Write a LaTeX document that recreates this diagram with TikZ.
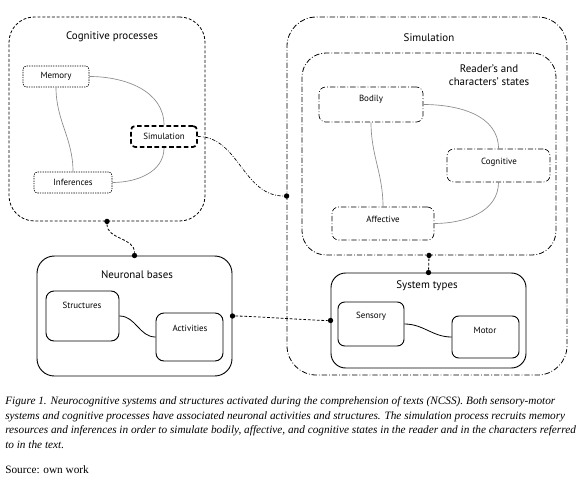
\documentclass[tikz,border=0pt]{standalone}
\usepackage{fontspec}
\setsansfont{PT Sans}
\newfontfamily\capfont{Liberation Serif}
\usetikzlibrary{fit}

\begin{document}
\begin{tikzpicture}[x=0.75pt,y=-0.75pt,font=\sffamily,
  frame/.style={draw,inner sep=0pt,line width=0.6pt},
  cogframe/.style={frame,dash pattern=on 2.2pt off 1.4pt,rounded corners=19pt},
  simframe/.style={frame,dash pattern=on 4pt off 1.5pt on 0.6pt off 1.5pt,rounded corners=#1},
  solidframe/.style={frame,line width=0.7pt,rounded corners=#1},
  memframe/.style={frame,line width=0.45pt,dash pattern=on 1pt off 0.8pt,rounded corners=2.5pt},
  simin/.style={frame,line width=1.3pt,dash pattern=on 3.5pt off 2pt,rounded corners=3pt},
  title/.style={font=\sffamily\fontsize{8.2}{10}\selectfont,align=center},
  lab/.style={font=\sffamily\fontsize{6.7}{8}\selectfont},
  link/.style={draw=black!45,line width=0.5pt},
  dot/.style={circle,fill=black,inner sep=0pt,minimum size=4pt},
  captext/.style={font=\capfont\fontsize{8.45}{11.1}\selectfont,align=left,anchor=north west,inner sep=0pt}]
  \useasboundingbox (0,0) rectangle (580,485);
  \fill[white] (0,0) rectangle (580,485);
  % left column
  \node[cogframe,fit={(9,17) (205,221)}] (cog) {};
  \node[title] (cogt) at (112,37) {Cognitive processes};
  \node[memframe,fit={(23,66) (89,87)}] (mem) {};
  \node[lab] (memt) at (mem.center) {Memory};
  \node[memframe,fit={(34,172) (112,193)}] (inf) {};
  \node[lab] (inft) at (inf.center) {Inferences};
  \node[simin,fit={(131,126) (197,147)}] (sim) {};
  \node[lab] (simt) at (sim.center) {Simulation};
  \node[solidframe=13pt,fit={(37,256) (232,376)}] (neu) {};
  \node[title] (neut) at (137,275) {Neuronal bases};
  \node[solidframe=6pt,fit={(46,291) (119,341)}] (str) {};
  \node[lab] (strt) at (82,305) {Structures};
  \node[solidframe=6pt,fit={(156,313) (223,361)}] (act) {};
  \node[lab] (actt) at (190,328) {Activities};
  % right column
  \node[simframe=22pt,fit={(287,17) (567,375)}] (simo) {};
  \node[title] (simot) at (429,38) {Simulation};
  \node[simframe=18pt,fit={(302,53) (556,255)}] (states) {};
  \node[title] (statest) at (489,75.5) {Reader's and\\characters' states};
  \node[simframe=5pt,line width=0.5pt,fit={(319,87) (423,122)}] (bod) {};
  \node[lab] (bodt) at (371,99) {Bodily};
  \node[simframe=5pt,line width=0.5pt,fit={(447,149) (550,182)}] (cgn) {};
  \node[lab] (cgnt) at (499,162) {Cognitive};
  \node[simframe=5pt,line width=0.5pt,fit={(332,207) (434,240)}] (aff) {};
  \node[lab] (afft) at (383,219) {Affective};
  \node[solidframe=11pt,fit={(331,273) (526,368)}] (sys) {};
  \node[title] (syst) at (427,286) {System types};
  \node[solidframe=5pt,fit={(338,302) (404,346)}] (sen) {};
  \node[lab] (sent) at (371,316) {Sensory};
  \node[solidframe=5pt,fit={(452,316) (519,358)}] (mot) {};
  \node[lab] (mott) at (485,330) {Motor};
  % links inside boxes
  \draw[link] (mem.east) to[out=0,in=90] (sim.north);
  \draw[link] (mem.south) to[out=-90,in=90] (inf.north);
  \draw[link] (sim.south) to[out=-90,in=0] (inf.east);
  \draw[link] (bod.east) to[out=0,in=90] (cgn.north);
  \draw[link] (bod.south) to[out=-90,in=90] (aff.north);
  \draw[link] (cgn.south) to[out=-90,in=0] (aff.east);
  \draw[link,draw=black,line width=0.6pt] (str.east) to[out=0,in=180] (act.west);
  \draw[link,draw=black,line width=0.6pt] (sen.east) to[out=0,in=180] (mot.west);
  % dots and links between boxes
  \node[dot] (d1) at (cog.south) {};
  \node[dot] (d2) at (neu.north) {};
  \node[dot] (d3) at (simo.west) {};
  \node[dot] (d4) at (states.south) {};
  \node[dot] (d5) at (sys.north) {};
  \node[dot] (d6) at (neu.east) {};
  \node[dot] (d7) at (sys.west) {};
  \draw[line width=0.6pt,dash pattern=on 2pt off 1.4pt] (d1) to[out=-90,in=90] (d2);
  \draw[line width=0.5pt,dash pattern=on 2.5pt off 1.2pt on 0.6pt off 1.2pt] (sim.east) to[out=0,in=180] (d3);
  \draw[line width=0.6pt,dash pattern=on 2pt off 1.4pt] (d4) -- (d5);
  \draw[line width=0.6pt,dash pattern=on 2pt off 1.4pt] (d6) to[out=0,in=180,looseness=0.4] (d7);
  % caption
  \node[captext] (caption) at (5,396) {\itshape Figure 1. Neurocognitive systems and structures activated during the comprehension of texts (NCSS). Both sensory-motor\\
  \itshape systems and cognitive processes have associated neuronal activities and structures. The simulation process recruits memory\\
  \itshape resources and inferences in order to simulate bodily, affective, and cognitive states in the reader and in the characters referred\\
  \itshape to in the text.};
  \node[captext] (source) at (5,465) {Source: own work};
\end{tikzpicture}
\end{document}
